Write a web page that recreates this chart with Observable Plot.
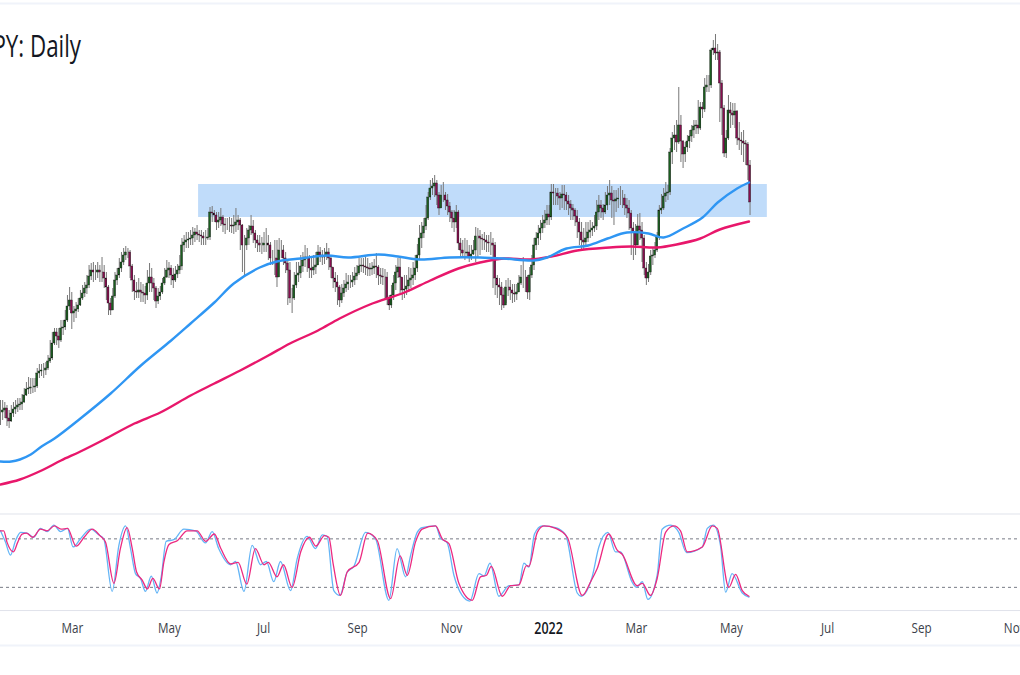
<!DOCTYPE html>
<html><head><meta charset="utf-8">
<script src="https://cdn.jsdelivr.net/npm/d3@7"></script>
<script src="https://cdn.jsdelivr.net/npm/@observablehq/plot@0.6"></script>
<style>
html,body{margin:0;padding:0;background:#fff;overflow:hidden;width:1020px;height:675px}
#wrap{position:relative;width:1020px;height:675px;overflow:hidden}
#title{position:absolute;left:-119px;width:200px;top:24px;text-align:right;font:31px "Open Sans",sans-serif;color:#131722;white-space:nowrap;transform:scaleX(.72);transform-origin:100% 50%}
svg{display:block}
</style></head><body>
<div id="wrap"><div id="title">JPY: Daily</div><div id="main"></div><div id="osc"></div></div>
<script>
// Daily closes, session by session (price points)
const closes = [
588,590,592,582,579,587,591,593,595,596,
598,605,611,612,613,613,614,627,629,630,
630,632,639,642,657,668,664,660,672,673,
680,694,700,687,689,691,695,702,707,712,
715,724,730,728,728,730,728,728,722,713,
697,690,704,720,725,732,738,745,748,748,
734,720,709,708,710,708,707,705,717,723,
717,712,699,704,708,717,723,730,732,725,
720,726,730,734,755,758,760,761,762,765,
768,766,765,764,762,762,763,788,787,785,
778,780,783,776,775,775,775,774,775,778,
780,775,755,755,762,770,774,767,760,757,
755,755,757,757,755,742,742,742,723,750,
750,742,737,730,702,702,715,725,727,734,
740,743,742,732,730,733,735,748,745,743,
744,748,742,733,722,718,713,700,707,712,
716,718,718,720,724,727,734,735,734,733,
732,731,732,734,733,725,724,723,723,702,
695,705,717,728,733,723,710,711,714,720,
722,725,732,745,762,767,774,782,803,812,
814,817,805,792,805,805,800,794,788,782,
778,788,757,750,747,747,748,743,746,750,
764,764,762,761,760,758,757,757,755,722,
715,713,705,695,713,713,710,707,706,708,
717,723,723,723,708,725,735,755,762,767,
772,777,780,786,783,808,807,807,804,802,
806,805,799,796,792,790,784,778,768,760,
758,762,768,770,772,774,788,795,792,788,
795,805,807,800,799,801,802,802,802,795,
792,787,772,768,755,774,770,762,732,722,
728,744,745,750,763,790,792,804,807,808,
848,862,865,858,875,859,846,853,859,864,
870,874,875,872,893,891,913,915,915,950,
952,947,948,917,892,847,862,890,887,885,
889,862,860,859,857,856,835,798];
const highs = [
600,600,598,595,590,595,598,600,602,602,
606,612,618,623,622,622,622,632,636,636,
637,638,645,660,668,672,672,672,680,680,
690,705,713,708,694,698,702,710,715,718,
725,735,737,738,735,738,735,743,735,728,
715,702,712,728,732,742,748,752,754,752,
750,736,725,718,722,718,716,714,730,737,
732,722,714,712,714,722,732,740,738,735,
732,734,736,745,762,765,768,768,770,773,
772,775,770,770,768,770,772,793,794,790,
788,788,792,785,782,782,783,782,785,792,
785,782,776,765,772,775,785,780,770,765,
765,763,768,772,765,758,750,760,760,762,
760,755,748,740,738,712,728,738,738,745,
748,755,752,745,742,745,748,755,753,750,
752,757,752,745,732,728,725,715,716,720,
727,725,725,728,733,735,742,742,742,743,
742,737,738,741,747,735,732,732,731,728,
705,715,725,735,742,744,722,725,725,733,
732,738,745,756,775,778,782,795,808,820,
822,825,820,808,815,818,808,806,798,790,
790,795,790,762,760,762,760,755,755,760,
773,772,770,766,768,765,765,768,762,758,
725,722,718,712,720,722,720,716,716,716,
725,735,743,730,725,733,745,762,768,775,
780,785,790,795,795,816,816,812,812,808,
815,815,808,805,800,796,792,790,782,778,
772,778,778,780,778,785,800,805,800,796,
808,814,820,814,810,810,812,814,810,806,
802,800,790,778,776,786,787,778,765,738,
736,750,752,758,768,795,806,812,818,815,
852,868,875,880,913,885,860,858,865,870,
875,880,880,900,898,898,922,925,925,952,
960,966,956,950,920,895,870,905,898,897,
897,890,878,868,870,860,858,840];
const lows = [
575,580,582,574,572,578,583,586,588,590,
590,597,604,606,606,607,608,612,622,624,
622,625,630,637,640,655,655,652,658,665,
670,678,690,671,678,682,688,694,700,703,
706,712,720,718,720,722,718,718,712,700,
685,685,690,702,715,722,728,735,740,742,
722,708,700,702,702,698,698,696,700,708,
708,700,692,696,700,706,715,722,722,715,
712,718,722,726,730,748,752,752,755,755,
758,760,758,755,755,755,760,760,778,778,
770,772,774,768,766,770,768,767,766,768,
770,750,728,725,750,755,765,757,752,748,
748,746,748,748,740,735,735,725,713,740,
742,735,727,695,697,687,700,712,718,722,
728,733,728,722,722,725,726,735,738,735,
736,740,730,722,712,708,695,693,697,703,
708,710,712,713,715,720,725,728,727,725,
724,724,725,726,722,715,716,715,700,695,
690,692,700,710,722,705,700,702,705,708,
712,715,720,728,740,752,762,770,780,800,
805,803,795,785,792,798,790,785,778,772,
768,772,750,742,742,740,742,738,740,745,
738,743,745,750,750,748,748,745,712,705,
702,695,690,692,697,704,700,697,698,700,
708,715,712,708,701,700,722,730,750,755,
760,767,772,775,775,780,795,795,795,790,
792,790,790,785,780,780,774,762,755,750,
750,755,758,762,764,768,770,780,782,780,
786,790,795,782,775,788,792,795,792,785,
782,770,745,740,745,755,760,738,725,715,
718,725,735,742,748,760,786,790,798,800,
805,836,850,848,856,838,832,838,848,852,
858,862,866,866,870,882,888,908,908,912,
945,940,940,878,865,843,842,860,872,875,
872,855,850,845,838,835,820,785];

// Moving averages sampled along the sessions
const fastMaSession = [0,5,9,14,19,25,37,51,65,79,88,99,108,120,128,139,151,161,175,184,194,208,222,233,247,253,262,272,281,290,300,307,316,325,332,341,346.5];
const fastMaLevel   = [539,539,541,546,554,562,582,607,635,660,677,698,717,733,739,742,745,743,746,744,741,743,743,742,740,743,752,755,762,768,767,763,772,783,798,812,818];
const slowMaSession = [0,9,19,28,37,48,62,74,88,99,111,124,134,147,157,171,187,199,212,222,233,245,255,267,282,292,304,313,324,333,346.5];
const slowMaLevel   = [516,521,530,540,549,561,577,588,605,617,630,645,657,670,682,696,708,720,732,738,742,741,744,750,753,754,753,756,762,771,779];

// Stochastic %K and %D
const kSession = [0,2.3,4.6,7,9.3,12.3,15.4,18.5,21.6,24.7,27.8,31,33.6,37,41.7,45.5,47.8,51.7,54.8,57.9,60.2,62.5,64.8,67.1,69.8,72.5,74.4,76.7,80.2,84.9,90.3,94.9,98,101,106.5,108.8,112.7,116.5,120.4,123.1,126.5,129.6,134.3,137.3,142,145.8,149,151.2,154.3,157.1,160.5,163.6,169,173.6,179.8,183.6,187.5,189.8,192.9,195.2,201.4,203.7,206.8,209.9,213.7,217.3,221.5,223.8,226.6,230.7,235.4,240,242.3,244.6,247.2,250.8,257,261.6,267,268.8,273.9,277,281.2,284.7,287,292.5,294.5,297.1,299.7,304,306.3,310.2,314,317.6,324.9,327.2,330,333.3,335.7,338.7,343.4,346.5];
const kValue   = [90,76,60,78,88,87,82,93,89,97,89,93,70,80,92,85,80,15,72,96,68,37,31,15,34,13,33,77,79,92,90,75,89,68,48,52,15,72,48,52,27,52,16,55,83,68,85,83,16,10,39,46,88,80,4,68,33,59,88,94,96,81,75,35,10,3,37,34,50,9,22,23,50,45,86,96,94,85,13,9,33,70,88,64,64,26,20,27,5,35,92,97,88,63,70,93,97,72,14,37,13,8];
const dSession = [0,1.5,3,6,8,10,12,15,18.5,21.5,25,28,31,35,39,42.5,46,48.6,52.5,55.5,58.6,61,63,65.6,68,70.5,73.6,75.6,78,82,86.4,91,95,99,102,106.5,110,114,118,122,124,128,131,135,139,143,146,150,152,154,157.4,160.5,166,170,174.4,180.6,185,188.3,192.1,195.2,201.4,204.5,207.6,212.2,218.4,222.2,225,227.2,232.3,236.1,240,243.5,244.6,248.5,251.6,257,262.4,269.3,273.2,276.2,281.6,285.5,287.8,294.8,297.1,300.9,304,307.9,311.7,314.8,317.9,324.9,329.5,331.8,337.2,340.3,343.4,346.5];
const dValue   = [90,90,76,64,76,86,87,82,92,90,96,92,93,71,83,92,84,76,25,68,94,68,39,29,18,31,18,51,73,78,90,90,77,86,68,49,51,24,68,48,51,33,48,20,64,82,71,84,82,49,10,39,51,87,78,6,59,35,76,92,96,80,74,25,4,33,35,46,9,22,23,47,46,88,96,93,82,10,27,43,86,66,61,22,25,10,31,88,96,90,64,70,96,93,20,36,16,9];

// Resistance zone
const zoneSessions = [91.7, 355];
const zoneLevels = [783, 816];
// Bottom-axis ticks
const monthSessions = [33.3,78.2,121.8,165.3,208.8,294.4,338.4,382.9,426.4,469.5];
const monthLabels = ["Mar","May","Jul","Sep","Nov","Mar","May","Jul","Sep","Nov"];
const yearSessions = [253.7];
const yearLabels = ["2022"];

const bars = closes.map((c,i)=>({i,c,o:i?closes[i-1]:c,h:highs[i],l:lows[i]}));
const zip = (a,b)=>a.map((x,i)=>({x,y:b[i]}));
const xDomain = {domain:[0,472.2],range:[0,1020],axis:null};

const main = Plot.plot({
  width:1020,height:513,margin:0,
  x:xDomain,
  y:{domain:[487,1000],range:[513,0],axis:null},
  marks:[
    Plot.ruleY([997],{stroke:"#f0f3fa",strokeWidth:2}),
    Plot.rect([0],{x1:zoneSessions[0],x2:zoneSessions[1],y1:zoneLevels[0],y2:zoneLevels[1],fill:"#c0dcfa"}),
    Plot.ruleX(bars,{x:"i",y1:"l",y2:"h",stroke:"#777",strokeWidth:1}),
    Plot.rect(bars,{x1:d=>d.i-0.45,x2:d=>d.i+0.45,y1:"o",y2:"c",
      fill:d=>d.c>=d.o?"#1b5e20":"#880e4f",stroke:"#111",strokeWidth:0.35}),
    Plot.line(zip(slowMaSession,slowMaLevel),{x:"x",y:"y",stroke:"#e8176b",strokeWidth:2.4,curve:"catmull-rom"}),
    Plot.line(zip(fastMaSession,fastMaLevel),{x:"x",y:"y",stroke:"#2f96f3",strokeWidth:2.4,curve:"catmull-rom"})
  ]
});
document.getElementById("main").append(main);

const font = '"Open Sans",sans-serif';
const osc = Plot.plot({
  width:1020,height:162,margin:0,
  x:xDomain,
  y:{domain:[-89.1,111.4],range:[162,0],axis:null},
  marks:[
    Plot.ruleY([110.8,-8.7],{stroke:"#e0e3eb",strokeWidth:1}),
    Plot.ruleY([-52],{stroke:"#f0f3fa",strokeWidth:2}),
    Plot.ruleY([20,80],{stroke:"#787b86",strokeWidth:1,strokeDasharray:"3,3"}),
    Plot.line(zip(kSession,kValue),{x:"x",y:"y",stroke:"#64b5f6",strokeWidth:1.3,curve:"monotone-x"}),
    Plot.line(zip(dSession,dValue),{x:"x",y:"y",stroke:"#ec2a80",strokeWidth:1.3,curve:"monotone-x"}),
    Plot.text(monthLabels,{x:(d,i)=>monthSessions[i],y:()=>-31,text:d=>d,fill:"#3c3f4a",fontSize:15,fontFamily:font}),
    Plot.text(yearLabels,{x:(d,i)=>yearSessions[i],y:()=>-31,text:d=>d,fill:"#131722",fontSize:16,fontWeight:600,fontFamily:font})
  ]
});
document.getElementById("osc").append(osc);
// narrow the tick labels to the reference's condensed look
osc.querySelectorAll("text").forEach(t=>{
  t.setAttribute("transform",(t.getAttribute("transform")||"")+" scale(.78,1)");
});
</script>
</body></html>
